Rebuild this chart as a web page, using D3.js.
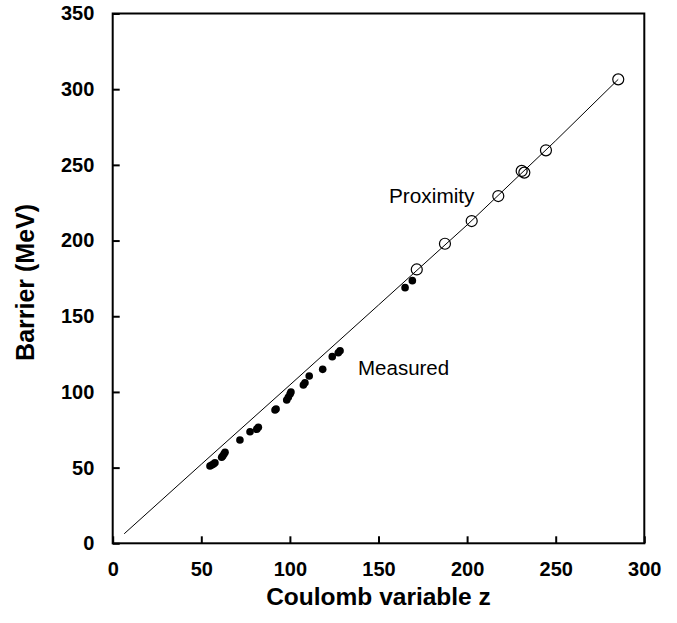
<!DOCTYPE html>
<html>
<head>
<meta charset="utf-8">
<script src="https://cdn.jsdelivr.net/npm/d3@7"></script>
<style>
  html, body { margin: 0; padding: 0; background: #fff; }
  svg { display: block; }
  text { font-family: Arial, "Liberation Sans", sans-serif; fill: #000; }
</style>
</head>
<body>
<svg id="chart" width="677" height="623"></svg>
<script>
// Measured fusion barriers against the Coulomb variable z
const measuredZ = [54.9, 55.9, 56.9, 57.7, 61.5, 62.1, 62.8, 63.4, 71.8, 77.5, 81.3, 82.2,
                   91.6, 92.2, 98.2, 99.1, 100.1, 100.6, 107.6, 108.5, 110.9, 118.5,
                   123.9, 127.3, 128.3, 165.0, 169.1];
const measuredB = [51.1, 51.7, 52.4, 53.2, 56.8, 57.7, 59.0, 60.1, 68.2, 73.7, 75.3, 76.6,
                   88.1, 88.7, 94.7, 96.5, 98.6, 100.0, 104.6, 106.1, 110.5, 114.9,
                   123.3, 125.9, 127.2, 168.9, 173.5];

// Proximity-model barriers
const proximityZ = [171.6, 187.5, 202.6, 217.6, 230.8, 232.3, 244.5, 285.3];
const proximityB = [180.9, 197.9, 212.9, 229.4, 246.0, 244.9, 259.6, 306.5];

// Proximity curve
const curveZ = [6.5, 50, 100, 150, 200, 250, 285.3];
const curveB = [6.3, 52.2, 104.6, 157.4, 210.3, 266.0, 306.5];

const xTicks = [0, 50, 100, 150, 200, 250, 300];
const yTicks = [0, 50, 100, 150, 200, 250, 300, 350];

const xTitle = "Coulomb variable z";
const yTitle = "Barrier (MeV)";

const svg = d3.select("#chart");
const plotLeft = 112.7, plotRight = 644.3, plotTop = 13.5, plotBottom = 543.3;

const x = d3.scaleLinear().domain([0, 300]).range([plotLeft, plotRight]);
const y = d3.scaleLinear().domain([0, 350]).range([plotBottom, plotTop]);

// Axes with inward ticks
const xAxis = svg.append("g")
  .attr("transform", `translate(0,${plotBottom})`)
  .call(d3.axisBottom(x).tickValues(xTicks).tickSizeInner(-7).tickSizeOuter(0).tickPadding(18.5));
const yAxis = svg.append("g")
  .attr("transform", `translate(${plotLeft},0)`)
  .call(d3.axisLeft(y).tickValues(yTicks).tickSizeInner(-7).tickSizeOuter(0).tickPadding(18.4));

[xAxis, yAxis].forEach(g => {
  g.select(".domain").remove();
  g.selectAll(".tick line").attr("stroke", "#000").attr("stroke-width", 2);
  g.selectAll(".tick text")
    .attr("font-size", 20)
    .attr("font-weight", "bold")
    .attr("font-family", 'Arial, "Liberation Sans", sans-serif')
    .attr("fill", "#000");
});

// Plot frame
svg.append("rect")
  .attr("x", plotLeft).attr("y", plotTop)
  .attr("width", plotRight - plotLeft).attr("height", plotBottom - plotTop)
  .attr("fill", "none").attr("stroke", "#000").attr("stroke-width", 2);

// Curve
const curvePts = curveZ.map((z, i) => [z, curveB[i]]);
svg.append("path")
  .datum(curvePts)
  .attr("fill", "none")
  .attr("stroke", "#000")
  .attr("stroke-width", 1)
  .attr("d", d3.line().x(d => x(d[0])).y(d => y(d[1])));

// Measured points
svg.append("g").selectAll("circle")
  .data(measuredZ.map((z, i) => [z, measuredB[i]]))
  .join("circle")
  .attr("cx", d => x(d[0]))
  .attr("cy", d => y(d[1]))
  .attr("r", 3.8)
  .attr("fill", "#000");

// Proximity points
svg.append("g").selectAll("circle")
  .data(proximityZ.map((z, i) => [z, proximityB[i]]))
  .join("circle")
  .attr("cx", d => x(d[0]))
  .attr("cy", d => y(d[1]))
  .attr("r", 5.5)
  .attr("fill", "none")
  .attr("stroke", "#000")
  .attr("stroke-width", 1.2);

// Labels
svg.append("text").attr("x", 389).attr("y", 203.3)
  .attr("font-size", 20.8).text("Proximity");
svg.append("text").attr("x", 358).attr("y", 375)
  .attr("font-size", 20.5).text("Measured");

// Axis titles
svg.append("text")
  .attr("x", (plotLeft + plotRight) / 2).attr("y", 605)
  .attr("text-anchor", "middle")
  .attr("font-size", 24.5).attr("font-weight", "bold")
  .text(xTitle);
svg.append("text")
  .attr("transform", `translate(34,${(plotTop + plotBottom) / 2 + 4}) rotate(-90)`)
  .attr("text-anchor", "middle")
  .attr("font-size", 25).attr("font-weight", "bold")
  .text(yTitle);
</script>
</body>
</html>
